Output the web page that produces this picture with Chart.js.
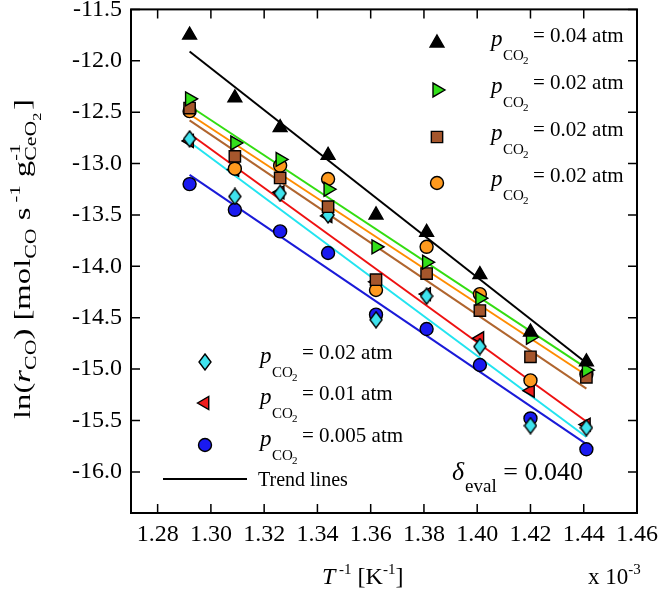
<!DOCTYPE html>
<html>
<head>
<meta charset="utf-8">
<script src="https://cdn.jsdelivr.net/npm/chart.js@4/dist/chart.umd.min.js"></script>
<style>
  html, body { margin: 0; padding: 0; background: #fff; }
</style>
</head>
<body>
<canvas id="arrhenius" width="658" height="591"></canvas>
<script>
// T^-1 values (x 10^-3 K^-1)
var invT = [1.292, 1.309, 1.326, 1.344, 1.362, 1.381, 1.401, 1.420, 1.441];

// ln(r_CO) per feed
var lnBlack  = [-11.75, -12.36, -12.65, -12.92, -13.50, -13.67, -14.08, -14.64, -14.93];
var lnGreen  = [-12.37, -12.80, -12.96, -13.25, -13.81, -13.96, -14.31, -14.69, -15.01];
var lnBrown  = [-12.46, -12.93, -13.14, -13.42, -14.13, -14.07, -14.43, -14.88, -15.08];
var lnOrange = [-12.49, -13.05, -13.02, -13.15, -14.23, -13.81, -14.27, -15.11, -15.05];
var lnCyan   = [-12.76, -13.32, -13.29, -13.50, -14.52, -14.29, -14.78, -15.55, -15.57];
var lnRed    = [-12.78, -13.06, -13.28, -13.51, -14.15, -14.27, -14.70, -15.21, -15.54];
var lnBlue   = [-13.20, -13.45, -13.66, -13.87, -14.47, -14.61, -14.96, -15.48, -15.78];

// trend lines (start / end)
var trendX      = [1.292, 1.441];
var trendBlack  = [-11.91, -14.94];
var trendGreen  = [-12.44, -14.99];
var trendOrange = [-12.52, -15.06];
var trendBrown  = [-12.58, -15.19];
var trendRed    = [-12.71, -15.51];
var trendCyan   = [-12.79, -15.66];
var trendBlue   = [-13.11, -15.73];

var xTicks = [1.28, 1.30, 1.32, 1.34, 1.36, 1.38, 1.40, 1.42, 1.44, 1.46];
var yTicks = [-16.0, -15.5, -15.0, -14.5, -14.0, -13.5, -13.0, -12.5, -12.0, -11.5];

var legendTop = ['0.04', '0.02', '0.02', '0.02'];
var legendBottom = ['0.02', '0.01', '0.005'];
var deltaEval = '0.040';

var SERIF = '"Liberation Serif", "Times New Roman", serif';

// narrow diamond marker
var diamond = document.createElement('canvas');
diamond.width = 14; diamond.height = 18;
(function () {
  var c = diamond.getContext('2d');
  c.beginPath();
  c.moveTo(7, 1); c.lineTo(13, 9); c.lineTo(7, 17); c.lineTo(1, 9); c.closePath();
  c.fillStyle = '#3fe3ee'; c.fill();
  c.lineWidth = 1.4; c.strokeStyle = '#000'; c.stroke();
})();

var mk = {
  black:  { pointStyle: 'triangle', radius: 8, rotation: 0, fill: '#000', border: '#000' },
  green:  { pointStyle: 'triangle', radius: 8, rotation: 90, fill: '#33e01a', border: '#000' },
  brown:  { pointStyle: 'rect', radius: 8, rotation: 0, fill: '#a5562c', border: '#000' },
  orange: { pointStyle: 'circle', radius: 6.5, rotation: 0, fill: '#ff9a1e', border: '#000' },
  cyan:   { pointStyle: diamond, radius: 8, rotation: 0, fill: '#3fe3ee', border: '#000' },
  red:    { pointStyle: 'triangle', radius: 7.5, rotation: -90, fill: '#ee1c1c', border: '#000' },
  blue:   { pointStyle: 'circle', radius: 6.5, rotation: 0, fill: '#1a1af0', border: '#000' }
};

function pts(xs, ys) {
  return xs.map(function (x, i) { return { x: x, y: ys[i] }; });
}

function markerSet(ys, m) {
  return {
    data: pts(invT, ys),
    showLine: false,
    pointStyle: m.pointStyle,
    pointRadius: m.radius,
    pointRotation: m.rotation,
    pointBackgroundColor: m.fill,
    pointBorderColor: m.border,
    pointBorderWidth: 1.4,
    order: 0
  };
}

function trendSet(ys, color) {
  return {
    data: pts(trendX, ys),
    showLine: true,
    borderColor: color,
    borderWidth: 2,
    pointRadius: 0,
    fill: false,
    order: 1
  };
}

// draw a run of text pieces (sub/superscripts), returns end x
function runs(ctx, x, y, parts, draw) {
  parts.forEach(function (p) {
    ctx.font = (p.it ? 'italic ' : '') + p.sz + 'px ' + SERIF;
    var dx = p.dx || 0;
    if (draw) ctx.fillText(p.t, x + dx, y + (p.dy || 0));
    if (!p.stay) x += dx + ctx.measureText(p.t).width;
  });
  return x;
}

function drawMarker(ctx, m, x, y) {
  ctx.save();
  if (m.pointStyle instanceof HTMLCanvasElement) {
    ctx.drawImage(m.pointStyle, x - m.pointStyle.width / 2, y - m.pointStyle.height / 2);
  } else {
    ctx.fillStyle = m.fill;
    ctx.strokeStyle = m.border;
    ctx.lineWidth = 1.4;
    Chart.helpers.drawPoint(ctx, { pointStyle: m.pointStyle, radius: m.radius, rotation: m.rotation, borderWidth: 1.4 }, x, y);
  }
  ctx.restore();
}

function pco2(ctx, x, y, val) {
  runs(ctx, x, y + 4, [{ t: 'p', sz: 23, it: true }], true);
  runs(ctx, x + 12, y + 18, [{ t: 'CO', sz: 15 }], true);
  runs(ctx, x + 32, y + 22, [{ t: '2', sz: 11 }], true);
  runs(ctx, x + 42, y, [{ t: '= ' + val + ' atm', sz: 21 }], true);
}

var decorPlugin = {
  id: 'decor',
  beforeDatasetsDraw: function (chart) {
    var ctx = chart.ctx, a = chart.chartArea, sx = chart.scales.x, sy = chart.scales.y;
    ctx.save();
    ctx.strokeStyle = '#000';
    ctx.lineWidth = 2;
    ctx.strokeRect(a.left, a.top, a.right - a.left, a.bottom - a.top);
    ctx.lineWidth = 1.5;
    ctx.beginPath();
    xTicks.forEach(function (v) {
      var px = sx.getPixelForValue(v);
      ctx.moveTo(px, a.bottom); ctx.lineTo(px, a.bottom - 9);
      ctx.moveTo(px, a.top); ctx.lineTo(px, a.top + 9);
    });
    yTicks.forEach(function (v) {
      var py = sy.getPixelForValue(v);
      ctx.moveTo(a.left, py); ctx.lineTo(a.left + 9, py);
      ctx.moveTo(a.right, py); ctx.lineTo(a.right - 9, py);
    });
    ctx.stroke();
    ctx.restore();
  },
  afterDraw: function (chart) {
    var ctx = chart.ctx;
    ctx.save();
    ctx.fillStyle = '#000';
    ctx.textBaseline = 'alphabetic';
    ctx.textAlign = 'left';

    // top-right legend
    var topMk = [mk.black, mk.green, mk.brown, mk.orange];
    var topY = [43, 90, 137, 183];
    legendTop.forEach(function (v, i) {
      drawMarker(ctx, topMk[i], 437, topY[i]);
      pco2(ctx, 491, topY[i] - 1, v);
    });

    // bottom-left legend
    var botMk = [mk.cyan, mk.red, mk.blue];
    var botY = [362, 403, 445];
    legendBottom.forEach(function (v, i) {
      drawMarker(ctx, botMk[i], 205, botY[i]);
      pco2(ctx, 260, botY[i] - 3.5, v);
    });
    ctx.strokeStyle = '#000';
    ctx.lineWidth = 2;
    ctx.beginPath(); ctx.moveTo(163, 479); ctx.lineTo(247, 479); ctx.stroke();
    runs(ctx, 258, 486, [{ t: 'Trend lines', sz: 20 }], true);

    // delta_eval
    runs(ctx, 452, 480, [
      { t: '\u03b4', sz: 26, it: true },
      { t: 'eval', sz: 19, dy: 12, dx: 1 },
      { t: ' = ' + deltaEval, sz: 26 }
    ], true);

    // x title
    runs(ctx, 322, 584, [
      { t: 'T', sz: 24, it: true },
      { t: ' -1', sz: 15, dy: -10 },
      { t: ' [K', sz: 24 },
      { t: '-1', sz: 15, dy: -10 },
      { t: ']', sz: 24 }
    ], true);
    runs(ctx, 588, 584, [
      { t: 'x 10', sz: 23 },
      { t: '-3', sz: 15, dy: -10 }
    ], true);

    // y title (rotated, stretched along its length like the original)
    var yParts = [
      { t: 'ln(', sz: 24 },
      { t: 'r', sz: 24, it: true },
      { t: 'CO', sz: 16, dy: 6 },
      { t: ') [mol', sz: 24 },
      { t: 'CO', sz: 16, dy: 6 },
      { t: ' s', sz: 24 },
      { t: ' -1', sz: 15, dy: -10 },
      { t: ' g', sz: 24 },
      { t: '-1', sz: 15, dy: -10, stay: true },
      { t: 'CeO', sz: 16, dy: 6 },
      { t: '2', sz: 12, dy: 11 },
      { t: ']', sz: 24, dx: 2 }
    ];
    var w = runs(ctx, 0, 0, yParts, false);
    var stretch = 320 / w;
    ctx.translate(30, 259);
    ctx.rotate(-Math.PI / 2);
    ctx.scale(stretch, 1);
    runs(ctx, -w / 2, 0, yParts, true);
    ctx.restore();
  }
};

new Chart(document.getElementById('arrhenius'), {
  type: 'scatter',
  data: {
    datasets: [
      markerSet(lnBlack, mk.black),
      markerSet(lnGreen, mk.green),
      markerSet(lnBrown, mk.brown),
      markerSet(lnOrange, mk.orange),
      markerSet(lnCyan, mk.cyan),
      markerSet(lnRed, mk.red),
      markerSet(lnBlue, mk.blue),
      trendSet(trendBlack, '#000000'),
      trendSet(trendGreen, '#33dd11'),
      trendSet(trendOrange, '#ff8c00'),
      trendSet(trendBrown, '#b0652e'),
      trendSet(trendRed, '#ee1111'),
      trendSet(trendCyan, '#22e4f0'),
      trendSet(trendBlue, '#1a1ad8')
    ]
  },
  options: {
    responsive: false,
    animation: false,
    events: [],
    layout: { padding: { left: 0, right: 21, top: 8, bottom: 0 } },
    plugins: { legend: { display: false }, tooltip: { enabled: false } },
    scales: {
      x: {
        type: 'linear',
        min: 1.27,
        max: 1.46,
        afterBuildTicks: function (s) { s.ticks = xTicks.map(function (v) { return { value: v }; }); },
        afterFit: function (s) { s.height = 78; s.paddingLeft = 0; s.paddingRight = 0; },
        grid: { display: false, drawTicks: false },
        border: { display: false },
        ticks: {
          padding: 7,
          color: '#000',
          font: { family: SERIF, size: 24 },
          callback: function (v) { return v.toFixed(2); }
        }
      },
      y: {
        type: 'linear',
        min: -16.4,
        max: -11.5,
        afterBuildTicks: function (s) { s.ticks = yTicks.map(function (v) { return { value: v }; }); },
        afterFit: function (s) { s.width = 131; s.paddingTop = 0; s.paddingBottom = 0; },
        grid: { display: false, drawTicks: false },
        border: { display: false },
        ticks: {
          padding: 9,
          color: '#000',
          font: { family: SERIF, size: 24 },
          callback: function (v) { return v.toFixed(1); }
        }
      }
    }
  },
  plugins: [decorPlugin]
});
</script>
</body>
</html>
